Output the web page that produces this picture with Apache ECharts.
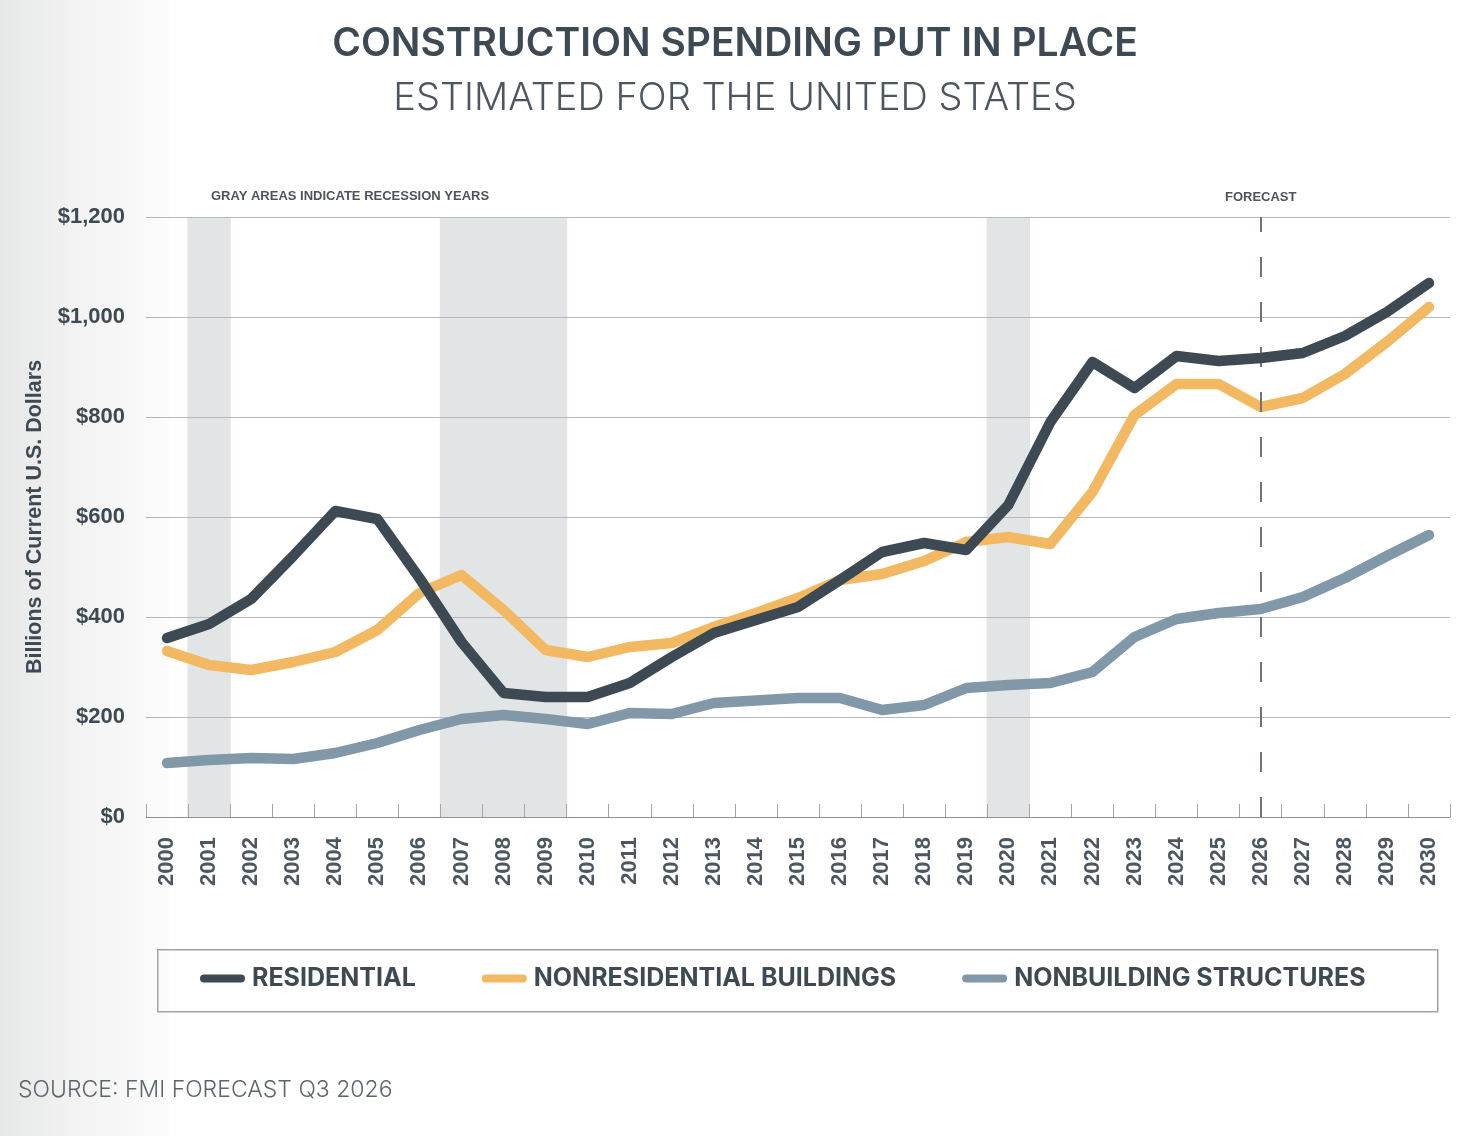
<!DOCTYPE html>
<html>
<head>
<meta charset="utf-8">
<title>Construction Spending Put in Place</title>
<script src="https://cdn.jsdelivr.net/npm/echarts@6/dist/echarts.min.js"></script>
<style>
  html, body { margin: 0; padding: 0; }
  body { background: linear-gradient(to right, #e6e7e7 0px, #f3f3f3 80px, #fbfbfb 166px, #ffffff 172px); }
  #chart { width: 1470px; height: 1136px; }
</style>
</head>
<body>
<div id="chart"></div>
<script>
// years on the axis
var years = ['2000', '2001', '2002', '2003', '2004', '2005', '2006', '2007', '2008', '2009',
             '2010', '2011', '2012', '2013', '2014', '2015', '2016', '2017', '2018', '2019',
             '2020', '2021', '2022', '2023', '2024', '2025', '2026', '2027', '2028', '2029', '2030'];

// billions of current U.S. dollars
var residential = [358, 386, 436, 522, 612, 596, 478, 350, 248, 240,
                   240, 268, 320, 368, 394, 420, 474, 530, 548, 534,
                   624, 790, 910, 858, 922, 912, 918, 928, 962, 1010, 1068];
var nonresidential = [332, 304, 294, 310, 330, 374, 448, 484, 414, 334,
                      320, 340, 348, 380, 408, 438, 474, 486, 512, 550,
                      560, 546, 650, 804, 866, 866, 820, 838, 886, 950, 1020];
var nonbuilding = [108, 114, 118, 116, 128, 148, 174, 196, 204, 196,
                   186, 208, 206, 228, 233, 238, 238, 214, 224, 258,
                   264, 268, 290, 360, 396, 408, 416, 440, 478, 522, 564];

var recessionYears = ['2001', '2007', '2008', '2009', '2020'];
var forecastYear = '2026';
var yTicks = [0, 200, 400, 600, 800, 1000, 1200];

var seriesNames = ['RESIDENTIAL', 'NONRESIDENTIAL BUILDINGS', 'NONBUILDING STRUCTURES'];
var seriesColors = ['#3d4a53', '#f2b862', '#8098a8'];

var recessionBars = years.map(function (y) {
    return recessionYears.indexOf(y) >= 0 ? yTicks[yTicks.length - 1] : '-';
});

var darkText = '#3d4a53';
var bandColor = '#e2e5e5';
var pill = 'path://M4,0 L41,0 A4,4 0 0 1 41,8 L4,8 A4,4 0 0 1 4,0 Z';

var myChart = echarts.init(document.getElementById('chart'));

var option = {
    animation: false,
    title: [
        {
            text: 'CONSTRUCTION SPENDING PUT IN PLACE',
            left: 'center',
            top: 25,
            padding: 0,
            textStyle: { fontFamily: 'Inter', fontWeight: 600, fontSize: 39, color: darkText }
        },
        {
            text: 'ESTIMATED FOR THE UNITED STATES',
            left: 'center',
            top: 80,
            padding: 0,
            textStyle: { fontFamily: 'Inter', fontWeight: 300, fontSize: 38, color: '#4a5761' }
        },
        {
            text: 'GRAY AREAS INDICATE RECESSION YEARS',
            left: 211,
            top: 190,
            padding: 0,
            textStyle: { fontFamily: 'Liberation Sans', fontWeight: 'bold', fontSize: 13, color: '#4b545a' }
        },
        {
            text: 'SOURCE: FMI FORECAST Q3 2026',
            left: 18,
            top: 1079,
            padding: 0,
            textStyle: { fontFamily: 'Inter', fontWeight: 300, fontSize: 23, color: '#5b656c' }
        }
    ],
    graphic: [
        {
            type: 'rect',
            left: 157,
            top: 949,
            shape: { width: 1280, height: 62 },
            style: { fill: 'rgba(0,0,0,0)', stroke: '#9ea3a6', lineWidth: 1.5 },
            silent: true
        }
    ],
    legend: {
        data: seriesNames,
        left: 200,
        top: 966,
        padding: 0,
        itemGap: 66,
        itemWidth: 45,
        itemHeight: 8,
        icon: pill,
        selectedMode: false,
        textStyle: { fontFamily: 'Inter', fontWeight: 700, fontSize: 25, color: darkText, padding: [0, 0, 0, 2] }
    },
    grid: {
        left: 146,
        right: 20,
        top: 217,
        bottom: 319
    },
    xAxis: {
        type: 'category',
        data: years,
        boundaryGap: true,
        axisLine: { show: true, lineStyle: { color: '#8d9295', width: 1 } },
        axisTick: { show: true, inside: true, length: 13, interval: 0, lineStyle: { color: '#a3a7a9' } },
        axisLabel: {
            interval: 0,
            rotate: 90,
            margin: 20,
            fontFamily: 'Liberation Sans',
            fontWeight: 'bold',
            fontSize: 22,
            color: '#4a5660'
        },
        splitLine: { show: false }
    },
    yAxis: {
        type: 'value',
        min: yTicks[0],
        max: yTicks[yTicks.length - 1],
        interval: yTicks[1] - yTicks[0],
        name: 'Billions of Current U.S. Dollars',
        nameLocation: 'middle',
        nameGap: 100,
        nameTextStyle: { fontFamily: 'Liberation Sans', fontWeight: 'bold', fontSize: 21.5, color: darkText },
        axisLine: { show: false },
        axisTick: { show: false },
        axisLabel: {
            margin: 21,
            fontFamily: 'Liberation Sans',
            fontWeight: 'bold',
            fontSize: 22,
            color: darkText,
            formatter: function (v) {
                return '$' + v.toLocaleString('en-US');
            }
        },
        splitLine: { show: true, lineStyle: { color: '#b3b7b9', width: 1 } }
    },
    series: [
        {
            name: 'recession',
            type: 'bar',
            data: recessionBars,
            barWidth: '103%',
            barGap: '0%',
            z: -1,
            silent: true,
            itemStyle: { color: bandColor },
            markLine: {
                silent: true,
                symbol: ['none', 'none'],
                lineStyle: { type: [20, 25], color: '#6e7579', width: 2 },
                label: {
                    show: true,
                    position: 'end',
                    distance: 13,
                    formatter: 'FORECAST',
                    fontFamily: 'Liberation Sans',
                    fontWeight: 'bold',
                    fontSize: 13,
                    color: '#4b545a'
                },
                data: [{ xAxis: forecastYear }]
            }
        },
        {
            name: seriesNames[2],
            type: 'line',
            data: nonbuilding,
            z: 3,
            symbol: 'none',
            color: seriesColors[2],
            lineStyle: { width: 10.5, color: seriesColors[2], cap: 'round', join: 'round' }
        },
        {
            name: seriesNames[1],
            type: 'line',
            data: nonresidential,
            z: 4,
            symbol: 'none',
            color: seriesColors[1],
            lineStyle: { width: 10.5, color: seriesColors[1], cap: 'round', join: 'round' }
        },
        {
            name: seriesNames[0],
            type: 'line',
            data: residential,
            z: 5,
            symbol: 'none',
            color: seriesColors[0],
            lineStyle: { width: 10.5, color: seriesColors[0], cap: 'round', join: 'round' }
        }
    ]
};

myChart.setOption(option);
</script>
</body>
</html>
